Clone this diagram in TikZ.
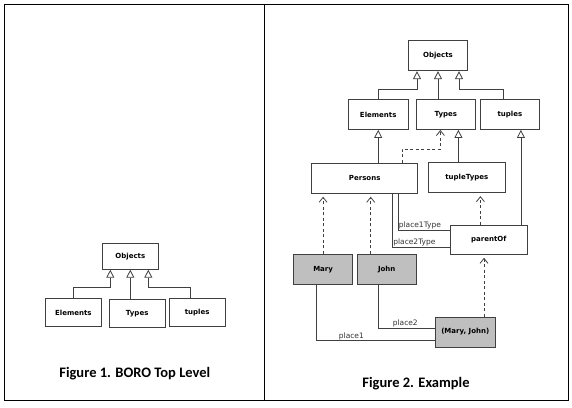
\documentclass[tikz,border=0pt]{standalone}
\usepackage{fontspec}
\setmainfont{DejaVu Sans}
\newfontfamily\capfont{Carlito}
\usetikzlibrary{arrows.meta}

\tikzset{
  box/.style={draw=black!75,line width=0.8pt,fill=white,minimum width=56pt,
    minimum height=28pt,inner sep=0pt,font=\fontsize{7}{8}\selectfont\bfseries},
  boxb/.style={box,minimum width=59.5pt,minimum height=30pt},
  inst/.style={boxb,fill=black!25},
  gen/.style={draw=black!75,line width=0.8pt,-{Triangle[open,width=8pt,length=8pt]}},
  dep/.style={draw=black!75,line width=0.8pt,dash pattern=on 3pt off 2.5pt,
    shorten >=3pt,-{Straight Barb[width=8pt,length=5pt]}},
  role/.style={draw=black!75,line width=0.8pt},
  lbl/.style={font=\fontsize{7.5}{8}\selectfont,text=black!80,inner sep=0.5pt},
  caption/.style={font=\capfont\fontsize{14.5}{16}\selectfont\bfseries},
}

\begin{document}
\begin{tikzpicture}[x=1pt,y=-1pt]
  \useasboundingbox (0,0) rectangle (572,407);

  % Page frame
  \draw[line width=1.5pt] (4.4,4.7) rectangle (568.4,400.3);
  \draw[line width=1.5pt] (264.7,4.7) -- (264.7,400.3);

  % Figure 1: top level
  \node[box,minimum height=26pt] (obj1) at (130.3,256.3) {Objects};
  \foreach \n/\t/\x/\y in {elem1/Elements/73.4/312.4,types1/Types/137.2/313.5,tuples1/tuples/197.2/312.4}
     \node[box] (\n) at (\x,\y) {\t};

  \draw[gen] (elem1.north) -- ++(0,-11) -| ([xshift=-20pt]obj1.south);
  \draw[gen] (types1.north -| obj1.south) -- (obj1.south);
  \draw[gen] ([xshift=-7pt]tuples1.north) -- ++(0,-11) -| ([xshift=18pt]obj1.south);

  \node[caption] (cap1) at (134.8,374) {Figure 1. BORO Top Level};

  % Figure 2: example
  \node[boxb] (obj2) at (438,55.7) {Objects};
  \foreach \n/\t/\x in {elem2/Elements/378.2,types2/Types/445.8,tuples2/tuples/509.9}
     \node[boxb] (\n) at (\x,114.5) {\t};
  \node[boxb,minimum width=106pt] (persons) at (364.7,178.3) {Persons};
  \node[boxb,minimum width=77pt] (tupletypes) at (466.8,177.7) {tupleTypes};
  \node[boxb,minimum width=77pt,minimum height=29.3pt] (parentof) at (488.8,239.7) {parentOf};
  \node[inst] (mary) at (323.1,269.2) {Mary};
  \node[inst] (john) at (386.7,269.2) {John};
  \node[inst] (maryjohn) at (465.3,332) {(Mary, John)};

  % Generalisations
  \draw[gen] (elem2.north) -- ++(0,-9.3) -| ([xshift=-21pt]obj2.south);
  \draw[gen] (types2.north -| obj2.south) -- (obj2.south);
  \draw[gen] ([xshift=-7pt]tuples2.north) -- ++(0,-9.3) -| ([xshift=21pt]obj2.south);
  \draw[gen] (persons.north -| elem2.south) -- (elem2.south);
  \coordinate (tt) at ([xshift=12.6pt]types2.south);
  \draw[gen] (tt |- tupletypes.north) -- (tt);
  \coordinate (tp) at ([xshift=11pt]tuples2.south);
  \draw[gen] (tp |- parentof.north) -- (tp);

  % Instance-of links
  \draw[dep,shorten >=0pt] ([xshift=37.6pt]persons.north) -- ++(0,-14) -| ([xshift=-5.4pt]types2.south);
  \coordinate (pt) at ([xshift=-8.4pt]parentof.north);
  \draw[dep] (pt) -- (pt |- tupletypes.south);
  \draw[dep] (mary.north) -- (mary.north |- persons.south);
  \coordinate (jn) at ([xshift=-16pt]john.north);
  \draw[dep] (jn) -- (jn |- persons.south);
  \coordinate (mj) at ([xshift=18.7pt]maryjohn.north);
  \draw[dep] (mj) -- (mj |- parentof.south);

  % Places
  \draw[role] ([xshift=33.2pt]persons.south) |- ([yshift=9.7pt]parentof.west)
     node[lbl,pos=0.5,anchor=south west] {place1Type};
  \draw[role] ([xshift=27.7pt]persons.south) |- ([yshift=-7.6pt]parentof.west)
     node[lbl,pos=0.5,anchor=south west] {place2Type};
  \draw[role] ([xshift=-6.6pt]mary.south) |- ([yshift=-8.7pt]maryjohn.west)
     node[lbl,pos=0.647,above] {place1};
  \draw[role] ([xshift=-7.9pt]john.south) |- ([yshift=4pt]maryjohn.west)
     node[lbl,pos=0.735,above] {place2};

  \node[caption] (cap2) at (416,383.3) {Figure 2. Example};
\end{tikzpicture}
\end{document}
